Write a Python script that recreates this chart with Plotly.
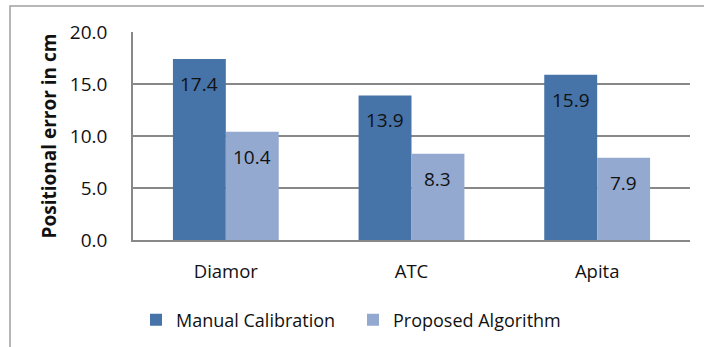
import plotly.graph_objects as go

categories = ["Diamor", "ATC", "Apita"]
manual = [17.4, 13.9, 15.9]
proposed = [10.4, 8.3, 7.9]
series_names = ["Manual Calibration", "Proposed Algorithm"]
y_ticks = [0, 5, 10, 15, 20]
y_tick_labels = ["0.0", "5.0", "10.0", "15.0", "20.0"]

DARK = "#4673A8"
LIGHT = "#94A9D0"
FONT = "'Open Sans', 'Noto Sans', sans-serif"

fig = go.Figure()
fig.add_trace(go.Bar(x=categories, y=manual, name=series_names[0], marker=dict(color=DARK, line=dict(width=0))))
fig.add_trace(go.Bar(x=categories, y=proposed, name=series_names[1], marker=dict(color=LIGHT, line=dict(width=0))))

bargap = 0.43
half = (1 - bargap) / 4
for i, (m, p) in enumerate(zip(manual, proposed)):
    for off, v in ((-half, m), (half, p)):
        fig.add_annotation(x=i + off, y=v, text=f"{v:.1f}", showarrow=False,
                           yshift=-25, font=dict(family=FONT, size=19, color="#111"))

fig.add_shape(type="rect", xref="paper", yref="paper", x0=-0.2208, x1=1.2, y0=-0.7, y1=1.125,
              line=dict(color="#A0A0A0", width=1.5), fillcolor="rgba(0,0,0,0)", layer="below")

fig.update_layout(
    width=704, height=347,
    margin=dict(l=133, r=14, t=32, b=107, autoexpand=False),
    paper_bgcolor="white", plot_bgcolor="white",
    barmode="group", bargap=bargap, bargroupgap=0,
    font=dict(family=FONT, size=19, color="#111"),
    showlegend=True,
    legend=dict(orientation="h", xref="container", yref="container", x=136 / 704, xanchor="left",
                y=1 - 320 / 347, yanchor="middle", entrywidth=172, entrywidthmode="pixels",
                font=dict(family=FONT, size=18), itemwidth=30, traceorder="normal"),
    xaxis=dict(showline=True, linecolor="#888", linewidth=1.5, ticks="", ticklabelstandoff=14,
               showgrid=False, tickfont=dict(size=18.5)),
    yaxis=dict(range=[0, 20], tickvals=y_ticks, ticktext=y_tick_labels, showline=True,
               linecolor="#888", linewidth=1.5, showgrid=True, gridcolor="#888", gridwidth=1.5,
               ticks="", ticklabelstandoff=20, tickfont=dict(size=19), zeroline=False,
               title=dict(text="<b>Positional error in cm</b>", font=dict(size=19), standoff=8)),
)

fig.write_html("out.html")
